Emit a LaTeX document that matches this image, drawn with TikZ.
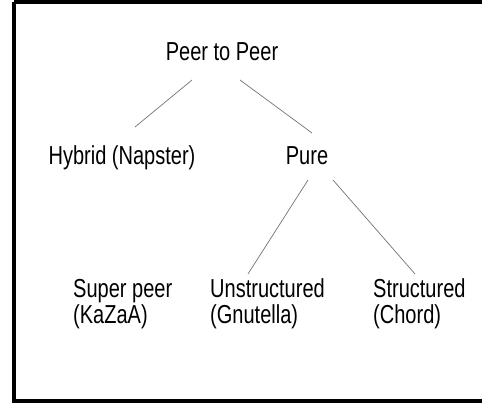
\documentclass[tikz,border=0pt]{standalone}
\usepackage{fontspec}
\setmainfont{Liberation Sans}[FakeStretch=0.77]
\usetikzlibrary{calc}
\begin{document}
\begin{tikzpicture}[x=1pt,y=1pt,
  lbl/.style={inner sep=0pt, font=\fontsize{26}{26}\selectfont},
  leaf/.style={lbl, align=left, anchor=base west},
  edge/.style={draw=black!55, line width=0.7pt}]
\useasboundingbox (0,0) rectangle (482,-403);
\clip (0,0) rectangle (482,-403);
\draw[line width=4pt] (14,-2) -- (495,-2) (14,-2) -- (14,-401) -- (495,-401);
\node[lbl, anchor=base] (root) at (222,-61) {Peer to Peer};
\node[lbl, anchor=base] (hyb) at (122,-165) {Hybrid (Napster)};
\node[lbl, anchor=base] (pure) at (307,-165) {Pure};
\node[leaf] (sp) at (73,-324) {Super peer\\(KaZaA)};
\node[leaf] (un) at (210,-324) {Unstructured\\(Gnutella)};
\node[leaf] (st) at (373,-324) {Structured\\(Chord)};
\draw[edge] ($(root.base)+(-30,-19)$) -- ($(hyb.base)+(13,38)$);
\draw[edge] ($(root.base)+(18,-19)$) -- ($(pure.base)+(5,32)$);
\draw[edge] ($(pure.base)+(1,-15)$) -- ($(un.north west)+(38,5)$);
\draw[edge] ($(pure.base)+(26,-15)$) -- ($(st.north west)+(42,5)$);
\end{tikzpicture}
\end{document}
